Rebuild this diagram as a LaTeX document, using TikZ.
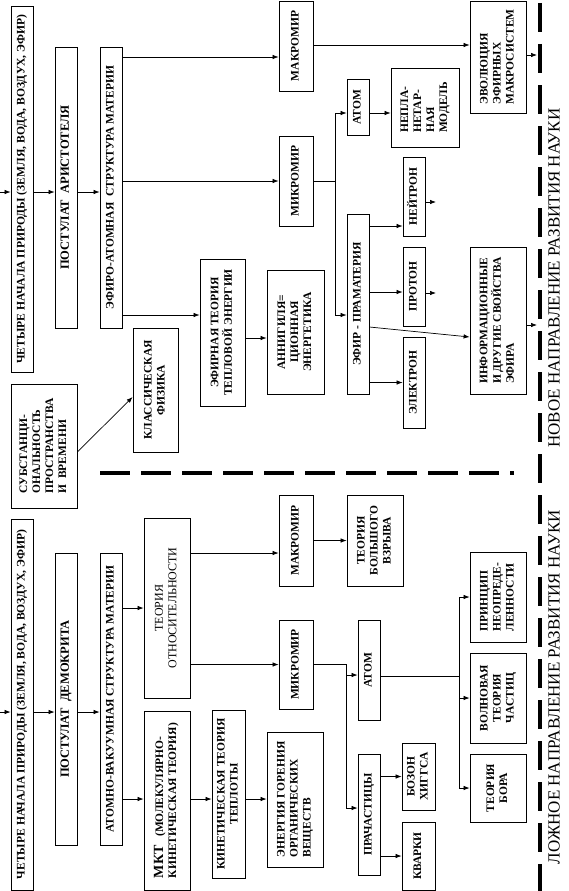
\documentclass[tikz,border=0pt]{standalone}
\usepackage{fontspec}
\setmainfont{Liberation Serif}
\usepackage{graphicx}
\usetikzlibrary{arrows.meta}

\newcommand{\vtxt}[2][c]{\rotatebox{90}{\begin{tabular}{@{}#1@{}}#2\end{tabular}}}

\tikzset{
  box/.style={draw, line width=0.8pt, inner sep=0pt,
    font=\bfseries\fontsize{11.5}{13}\selectfont},
  boxn/.style={box, font=\mdseries\fontsize{12}{13.5}\selectfont},
  boxw/.style={box, font=\bfseries\fontsize{12.5}{14}\selectfont},
  boxlong/.style={box, font=\bfseries\fontsize{11.6}{13}\selectfont},
  arr/.style={line width=0.7pt, -{Latex[length=6pt,width=4.5pt]}},
  ln/.style={line width=0.7pt},
  cutline/.style={line width=3.5pt},
  dirlabel/.style={rotate=90, font=\fontsize{17}{20}\selectfont},
}

\begin{document}
\begin{tikzpicture}[x=1pt, y=-1pt]
\useasboundingbox (0,0) rectangle (568,891);

% new direction
\node[boxlong, minimum width=22pt, minimum height=366pt] (chetN) at (22,189)
  {\vtxt{ЧЕТЫРЕ НАЧАЛА ПРИРОДЫ (ЗЕМЛЯ, ВОДА, ВОЗДУХ, ЭФИР)}};
\node[boxw, minimum width=22pt, minimum height=281pt] (postA) at (66,187.5)
  {\vtxt{ПОСТУЛАТ\ \ АРИСТОТЕЛЯ}};
\node[box, minimum width=22pt, minimum height=281pt] (efat) at (111,187.5)
  {\vtxt{ЭФИРО-АТОМНАЯ\ \ СТРУКТУРА МАТЕРИИ}};
\node[box, minimum width=34pt, minimum height=90pt] (makN) at (296,46)
  {\vtxt{МАКРОМИР}};
\node[box, minimum width=34pt, minimum height=90pt] (mikN) at (296,181)
  {\vtxt{МИКРОМИР}};
\node[box, minimum width=56pt, minimum height=112pt] (evol) at (498,57)
  {\vtxt[l]{ЭВОЛЮЦИЯ\\ЭФИРНЫХ\\МАКРОСИСТЕМ}};
\node[box, minimum width=22pt, minimum height=56pt] (atomN) at (358,107)
  {\vtxt{АТОМ}};
\node[box, minimum width=68pt, minimum height=79pt] (neplan) at (425,107.5)
  {\vtxt[l]{НЕПЛА-\\НЕТАР-\\НАЯ\\МОДЕЛЬ}};
\node[box, minimum width=22pt, minimum height=180pt] (pram) at (358,304)
  {\vtxt{ЭФИР - ПРАМАТЕРИЯ}};
\node[box, minimum width=22pt, minimum height=79pt] (neutr) at (414,196.5)
  {\vtxt{НЕЙТРОН}};
\node[box, minimum width=22pt, minimum height=79pt] (proton) at (414,286.5)
  {\vtxt{ПРОТОН}};
\node[box, minimum width=22pt, minimum height=91pt] (electr) at (414,382.5)
  {\vtxt{ЭЛЕКТРОН}};
\node[box, minimum width=56pt, minimum height=147pt] (inform) at (498,320.5)
  {\vtxt[l]{ИНФОРМАЦИОННЫЕ\\И ДРУГИЕ СВОЙСТВА\\ЭФИРА}};
\node[box, minimum width=45pt, minimum height=147pt] (efteor) at (222.5,332.5)
  {\vtxt{ЭФИРНАЯ ТЕОРИЯ\\ТЕПЛОВОЙ ЭНЕРГИИ}};
\node[box, minimum width=57pt, minimum height=124pt] (annig) at (295.5,332)
  {\vtxt{АННИГИЛЯ=\\ЦИОННАЯ\\ЭНЕРГЕТИКА}};
\node[box, minimum width=66pt, minimum height=124pt] (subst) at (44,446)
  {\vtxt[l]{СУБСТАНЦИ-\\ОНАЛЬНОСТЬ\\ПРОСТРАНСТВА\\И\ \ ВРЕМЕНИ}};
\node[box, minimum width=45pt, minimum height=124pt] (klass) at (155.5,390)
  {\vtxt{КЛАССИЧЕСКАЯ\\ФИЗИКА}};

% false direction
\node[boxlong, minimum width=22pt, minimum height=371pt] (chetL) at (22,704.5)
  {\vtxt{ЧЕТЫРЕ НАЧАЛА ПРИРОДЫ (ЗЕМЛЯ, ВОДА, ВОЗДУХ, ЭФИР)}};
\node[boxw, minimum width=22pt, minimum height=292pt] (postD) at (66,699)
  {\vtxt{ПОСТУЛАТ\ \ ДЕМОКРИТА}};
\node[box, minimum width=22pt, minimum height=292pt] (atvak) at (111,699)
  {\vtxt{АТОМНО-ВАКУУМНАЯ СТРУКТУРА МАТЕРИИ}};
\node[boxn, minimum width=46pt, minimum height=180pt] (otnos) at (167,608)
  {\vtxt{ТЕОРИЯ\\ОТНОСИТЕЛЬНОСТИ}};
\node[box, minimum width=46pt, minimum height=179pt] (mkt) at (167,800.5)
  {\vtxt[l]{{\fontsize{14}{15}\selectfont МКТ}\ \ \ (МОЛЕКУЛЯРНО-\\КИНЕТИЧЕСКАЯ ТЕОРИЯ)}};
\node[box, minimum width=34pt, minimum height=91pt] (makL) at (296,540.5)
  {\vtxt{МАКРОМИР}};
\node[box, minimum width=56pt, minimum height=91pt] (bigbang) at (375,540.5)
  {\vtxt{ТЕОРИЯ\\БОЛЬШОГО\\ВЗРЫВА}};
\node[box, minimum width=34pt, minimum height=89pt] (mikL) at (296,664.5)
  {\vtxt{МИКРОМИР}};
\node[box, minimum width=33pt, minimum height=168pt] (kinet) at (228.5,794)
  {\vtxt{КИНЕТИЧЕСКАЯ ТЕОРИЯ\\ТЕПЛОТЫ}};
\node[box, minimum width=56pt, minimum height=135pt] (gorenie) at (295,799.5)
  {\vtxt[l]{ЭНЕРГИЯ ГОРЕНИЯ\\ОРГАНИЧЕСКИХ\\ВЕЩЕСТВ}};
\node[box, minimum width=22pt, minimum height=100pt] (atomL) at (369,670)
  {\vtxt{АТОМ}};
\node[box, minimum width=22pt, minimum height=121pt] (prach) at (369,814.5)
  {\vtxt{ПРАЧАСТИЦЫ}};
\node[box, minimum width=33pt, minimum height=67pt] (bozon) at (418.5,776.5)
  {\vtxt{БОЗОН\\ХИГГСА}};
\node[box, minimum width=33pt, minimum height=68pt] (kvark) at (418.5,856)
  {\vtxt{КВАРКИ}};
\node[box, minimum width=56pt, minimum height=90pt] (princ) at (498,597)
  {\vtxt[l]{ПРИНЦИП\\НЕОПРЕДЕ-\\ЛЕННОСТИ}};
\node[box, minimum width=56pt, minimum height=90pt] (volnov) at (498,698)
  {\vtxt{ВОЛНОВАЯ\\ТЕОРИЯ\\ЧАСТИЦ}};
\node[box, minimum width=56pt, minimum height=68pt] (bor) at (498,788)
  {\vtxt{ТЕОРИЯ\\БОРА}};

\node[dirlabel] (lblN) at (554,278) {НОВОЕ НАПРАВЛЕНИЕ РАЗВИТИЯ НАУКИ};
\node[dirlabel] (lblL) at (554,687) {ЛОЖНОЕ НАПРАВЛЕНИЕ РАЗВИТИЯ НАУКИ};

% free ends and branch points
\coordinate (inN) at (0,192);
\coordinate (inL) at (0,712);
\coordinate (splN) at (335,181);
\coordinate (splL) at (346,664);
\coordinate (splA) at (459,676);
\coordinate (outEv) at (537,55);
\coordinate (outIn) at (537,325);
\coordinate (outNe) at (436,202);
\coordinate (outPr) at (436,293);

% connectors, new direction
\draw[arr] (inN) -- (inN -| chetN.west);
\draw[arr] (chetN.east |- inN) -- (postA.west |- inN);
\draw[arr] (postA.east |- inN) -- (efat.west |- inN);
\draw[arr] (efat.east |- 0,57) -- (makN.west |- 0,57);
\draw[arr] (efat.east |- mikN.west) -- (mikN.west);
\draw[arr] (efat.east |- 0,315) -- (efteor.west |- 0,315);
\draw[arr] (makN.east |- 0,45) -- (evol.west |- 0,45);
\draw[ln] (mikN.east) -- (splN);
\draw[arr] (splN) |- (atomN.west |- 0,113);
\draw[arr] (splN) |- (pram.west |- 0,315);
\draw[arr] (atomN.east |- 0,113) -- (neplan.west |- 0,113);
\draw[arr] (pram.east |- 0,226) -- (neutr.west |- 0,226);
\draw[arr] (pram.east |- 0,292) -- (proton.west |- 0,292);
\draw[arr] (pram.east |- electr.west) -- (electr.west);
\draw[arr] (pram.east |- 0,327) -- (inform.west |- 0,337);
\draw[arr] (efteor.east |- 0,338) -- (annig.west |- 0,338);
\draw[arr] (subst.east |- 0,452) -- (klass.west |- 0,397);
\draw[arr] (neutr.east |- outNe) -- (outNe);
\draw[arr] (proton.east |- outPr) -- (outPr);
\draw[arr] (evol.east |- outEv) -- (outEv);
\draw[arr] (inform.east |- outIn) -- (outIn);

% connectors, false direction
\draw[arr] (inL) -- (inL -| chetL.west);
\draw[arr] (chetL.east |- inL) -- (postD.west |- inL);
\draw[arr] (postD.east |- inL) -- (atvak.west |- inL);
\draw[arr] (atvak.east |- otnos.west) -- (otnos.west);
\draw[arr] (atvak.east |- 0,799) -- (mkt.west |- 0,799);
\draw[arr] (otnos.east |- 0,553) -- (makL.west |- 0,553);
\draw[arr] (otnos.east |- mikL.west) -- (mikL.west);
\draw[arr] (makL.east |- bigbang.west) -- (bigbang.west);
\draw[arr] (mkt.east |- 0,799) -- (kinet.west |- 0,799);
\draw[arr] (kinet.east |- 0,799) -- (gorenie.west |- 0,799);
\draw[ln] (mikL.east |- splL) -- (splL);
\draw[arr] (splL) |- (atomL.west |- 0,675);
\draw[arr] (splL) |- (prach.west |- 0,808);
\draw[arr] (prach.east |- bozon.west) -- (bozon.west);
\draw[arr] (prach.east |- kvark.west) -- (kvark.west);
\draw[ln] (atomL.east |- splA) -- (splA);
\draw[arr] (splA) |- (princ.west);
\draw[arr] (splA) |- (volnov.west);
\draw[arr] (splA) |- (bor.west);

% dividing lines
\draw[cutline, dash pattern=on 30pt off 11pt] (100,473) -- (514,473);
\draw[cutline, dash pattern=on 29pt off 12pt] (540,3) -- (540,891);

\end{tikzpicture}
\end{document}
